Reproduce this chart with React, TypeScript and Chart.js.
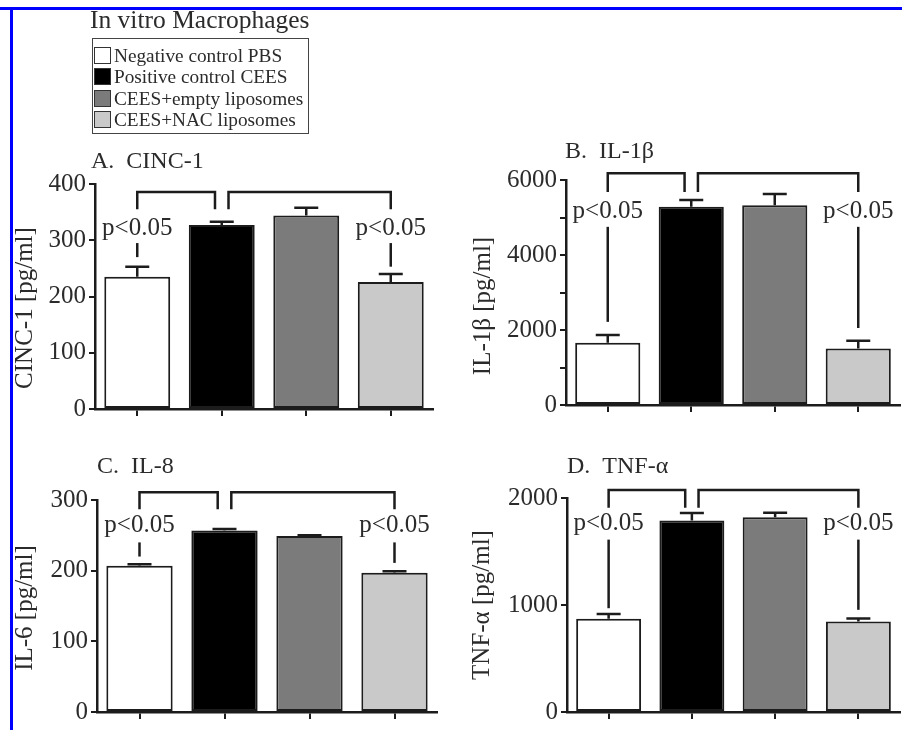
import React, { useEffect, useRef } from 'react';
import { Chart, registerables } from 'chart.js';

Chart.register(...registerables);

const FONT = '"Liberation Serif", "Times New Roman", serif';
const INK = '#1c1c1c';
const TEXT = '#2b2b2b';

// ---- data ----
const groups = ['Negative control PBS', 'Positive control CEES', 'CEES+empty liposomes', 'CEES+NAC liposomes'];
const barColors = ['#ffffff', '#000000', '#7b7b7b', '#c9c9c9'];

const cincMeans = [235, 327, 344, 226];
const cincErrors = [18, 6, 14, 14];
const il1bMeans = [1660, 5290, 5330, 1510];
const il1bErrors = [205, 180, 295, 205];
const il8Means = [207, 257, 249, 197];
const il8Errors = [2, 2, 1, 2];
const tnfMeans = [872, 1790, 1821, 845];
const tnfErrors = [45, 70, 40, 30];

const sigLabel = 'p<0.05';

type Panel = {
  key: string;
  title: string;
  yTitle: string;
  means: number[];
  errors: number[];
  yMax: number;
  yStep: number;
  labelEvery: number;
  bracketTop: number;
  bracketLeg: number;
  pY: number;
  pLineTop: number;
  pLineBottoms: number[];
  // layout (page coordinates)
  left: number;
  top: number;
  width: number;
  height: number;
  area: { l: number; r: number; t: number; b: number };
  titlePos: [number, number];
  yTitlePos: [number, number];
};

const panels: Panel[] = [
  {
    key: 'A', title: 'A.  CINC-1', yTitle: 'CINC-1 [pg/ml]',
    means: cincMeans, errors: cincErrors, yMax: 400, yStep: 100, labelEvery: 100,
    bracketTop: 386, bracketLeg: 355, pY: 321, pLineTop: 295, pLineBottoms: [270, 253],
    left: 0, top: 0, width: 451, height: 440,
    area: { l: 95, r: 433, t: 184, b: 409 },
    titlePos: [91, 162], yTitlePos: [25, 308],
  },
  {
    key: 'B', title: 'B.  IL-1β', yTitle: 'IL-1β [pg/ml]',
    means: il1bMeans, errors: il1bErrors, yMax: 6000, yStep: 1000, labelEvery: 2000,
    bracketTop: 6179, bracketLeg: 5680, pY: 5155, pLineTop: 4751, pLineBottoms: [2217, 2053],
    left: 451, top: 0, width: 451, height: 440,
    area: { l: 566, r: 900, t: 180, b: 405 },
    titlePos: [565, 152], yTitlePos: [483, 306],
  },
  {
    key: 'C', title: 'C.  IL-8', yTitle: 'IL-6 [pg/ml]',
    means: il8Means, errors: il8Errors, yMax: 300, yStep: 100, labelEvery: 100,
    bracketTop: 311, bracketLeg: 287, pY: 264, pLineTop: 240, pLineBottoms: [220, 211],
    left: 0, top: 440, width: 451, height: 290,
    area: { l: 97, r: 437, t: 500, b: 723 },
    titlePos: [97, 467], yTitlePos: [25, 608],
  },
  {
    key: 'D', title: 'D.  TNF-α', yTitle: 'TNF-α [pg/ml]',
    means: tnfMeans, errors: tnfErrors, yMax: 2000, yStep: 1000, labelEvery: 1000,
    bracketTop: 2074, bracketLeg: 1910, pY: 1762, pLineTop: 1611, pLineBottoms: [970, 955],
    left: 451, top: 440, width: 451, height: 290,
    area: { l: 567, r: 900, t: 498, b: 722 },
    titlePos: [567, 467], yTitlePos: [482, 605],
  },
];

function overlay(p: Panel) {
  return {
    id: 'overlay' + p.key,
    afterDatasetsDraw(chart: any) {
      const ctx = chart.ctx as CanvasRenderingContext2D;
      const xs = chart.scales.x;
      const ys = chart.scales.y;
      const meta = chart.getDatasetMeta(0);
      ctx.save();
      ctx.strokeStyle = INK;
      ctx.lineWidth = 2.5;
      // error bars (upper)
      meta.data.forEach((bar: any, i: number) => {
        const x = bar.x;
        const yTop = ys.getPixelForValue(p.means[i] + p.errors[i]);
        ctx.beginPath();
        ctx.moveTo(x, bar.y);
        ctx.lineTo(x, yTop);
        ctx.moveTo(x - 12, yTop);
        ctx.lineTo(x + 12, yTop);
        ctx.stroke();
      });
      // brackets
      const yT = ys.getPixelForValue(p.bracketTop);
      const yL = ys.getPixelForValue(p.bracketLeg);
      const brackets: [number, number][] = [[0, 0.92], [1.08, 3]];
      brackets.forEach(([a, b]) => {
        const x0 = xs.getPixelForValue(a);
        const x1 = xs.getPixelForValue(b);
        ctx.beginPath();
        ctx.moveTo(x0, yL);
        ctx.lineTo(x0, yT);
        ctx.lineTo(x1, yT);
        ctx.lineTo(x1, yL);
        ctx.stroke();
      });
      // significance labels and connector lines
      ctx.fillStyle = TEXT;
      ctx.font = `25px ${FONT}`;
      ctx.textAlign = 'center';
      ctx.textBaseline = 'middle';
      [0, 3].forEach((cat, k) => {
        const x = xs.getPixelForValue(cat);
        ctx.fillText(sigLabel, x, ys.getPixelForValue(p.pY));
        ctx.beginPath();
        ctx.moveTo(x, ys.getPixelForValue(p.pLineTop));
        ctx.lineTo(x, ys.getPixelForValue(p.pLineBottoms[k]));
        ctx.stroke();
      });
      // panel title
      ctx.textAlign = 'left';
      ctx.font = `24px ${FONT}`;
      ctx.fillText(p.title, p.titlePos[0] - p.left, p.titlePos[1] - p.top);
      // y axis title
      ctx.translate(p.yTitlePos[0] - p.left, p.yTitlePos[1] - p.top);
      ctx.rotate(-Math.PI / 2);
      ctx.textAlign = 'center';
      ctx.font = `25px ${FONT}`;
      ctx.fillText(p.yTitle, 0, 0);
      ctx.restore();
    },
  };
}

function PanelChart({ p }: { p: Panel }) {
  const ref = useRef<HTMLCanvasElement | null>(null);
  useEffect(() => {
    if (!ref.current) return;
    const a = {
      l: p.area.l - p.left,
      r: p.area.r - p.left,
      t: p.area.t - p.top,
      b: p.area.b - p.top,
    };
    const yW = a.l - 4;
    const chart = new Chart(ref.current, {
      type: 'bar',
      data: {
        labels: groups,
        datasets: [
          {
            data: p.means,
            backgroundColor: barColors,
            borderColor: INK,
            borderWidth: 2,
            borderSkipped: false,
            barPercentage: 0.78,
            categoryPercentage: 1,
          },
        ],
      },
      options: {
        responsive: false,
        animation: false,
        devicePixelRatio: 1,
        events: [],
        layout: {
          padding: { left: a.l - yW, right: p.width - a.r, top: a.t, bottom: 0 },
        },
        plugins: {
          legend: { display: false },
          tooltip: { enabled: false },
          title: { display: false },
        },
        scales: {
          x: {
            type: 'category',
            offset: true,
            ticks: { display: false },
            grid: {
              offset: false,
              drawOnChartArea: false,
              drawTicks: true,
              tickLength: 7,
              lineWidth: 2,
              color: INK,
            },
            border: { display: true, color: INK, width: 2.5 },
            afterFit: (s: any) => {
              s.height = p.height - a.b;
            },
          },
          y: {
            type: 'linear',
            min: 0,
            max: p.yMax,
            ticks: {
              stepSize: p.yStep,
              color: TEXT,
              font: { family: FONT, size: 25 },
              padding: 3,
              callback: (v: any) => (Number(v) % p.labelEvery === 0 ? String(v) : ''),
            },
            grid: {
              drawOnChartArea: false,
              drawTicks: true,
              tickLength: 6,
              lineWidth: 2,
              color: INK,
            },
            border: { display: true, color: INK, width: 2.5 },
            afterFit: (s: any) => {
              s.width = yW;
            },
          },
        },
      },
      plugins: [overlay(p)],
    } as any);
    return () => chart.destroy();
  }, [p]);
  return (
    <canvas
      ref={ref}
      width={p.width}
      height={p.height}
      style={{ position: 'absolute', left: p.left, top: p.top, width: p.width, height: p.height }}
    />
  );
}

export default function App() {
  const rowTops = [45, 66.3, 87.6, 108.9];
  return (
    <div
      style={{
        position: 'absolute',
        left: 0,
        top: 0,
        width: 902,
        height: 730,
        background: '#ffffff',
        overflow: 'hidden',
        fontFamily: FONT,
      }}
    >
      {panels.map((p) => (
        <PanelChart key={p.key} p={p} />
      ))}
      <div
        style={{
          position: 'absolute',
          left: 90,
          top: 7,
          fontSize: 25.5,
          lineHeight: '25px',
          color: TEXT,
          whiteSpace: 'nowrap',
        }}
      >
        In vitro Macrophages
      </div>
      <div
        style={{
          position: 'absolute',
          left: 92,
          top: 38,
          width: 215,
          height: 94,
          border: '1.5px solid #444',
        }}
      />
      {groups.map((g, i) => (
        <React.Fragment key={g}>
          <div
            style={{
              position: 'absolute',
              left: 94,
              top: rowTops[i] + 2,
              width: 15,
              height: 15,
              background: barColors[i],
              border: '1.5px solid #333',
            }}
          />
          <div
            style={{
              position: 'absolute',
              left: 114,
              top: rowTops[i],
              fontSize: 19.3,
              lineHeight: '21px',
              color: TEXT,
              whiteSpace: 'nowrap',
            }}
          >
            {g}
          </div>
        </React.Fragment>
      ))}
      <div style={{ position: 'absolute', left: 0, top: 7, width: 902, height: 3, background: '#0000ff' }} />
      <div style={{ position: 'absolute', left: 10, top: 7, width: 3, height: 723, background: '#0000ff' }} />
    </div>
  );
}
